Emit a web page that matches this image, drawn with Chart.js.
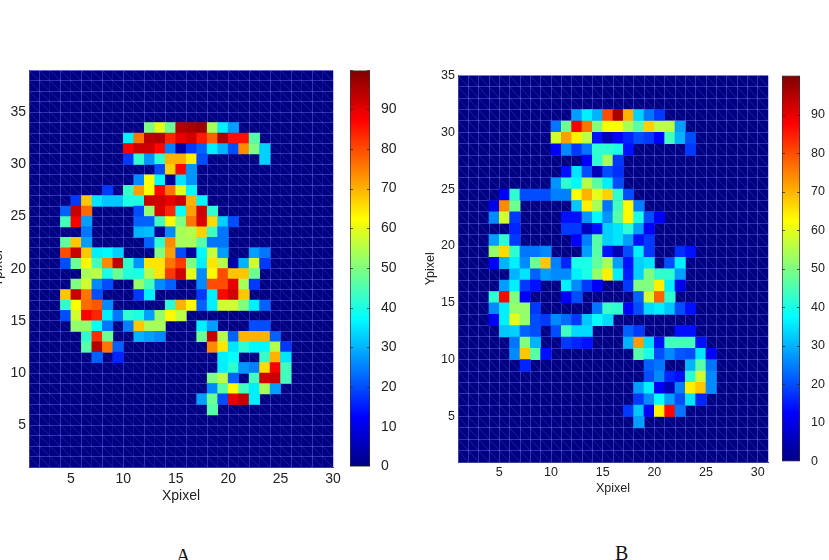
<!DOCTYPE html>
<html>
<head>
<meta charset="utf-8">
<title>Xpixel Ypixel maps</title>
<script src="https://cdn.jsdelivr.net/npm/chart.js@4"></script>
<style>
html, body { margin: 0; padding: 0; background: #fff; }
#page { position: relative; width: 829px; height: 560px; overflow: hidden; }
#page canvas { position: absolute; }
.tag { position: absolute; font-family: "Liberation Serif", serif; font-size: 20px; line-height: 22px; color: #111; }
</style>
</head>
<body>
<div id="page">
  <canvas id="mapA" width="360" height="448" style="left:-15px;top:59px"></canvas>
  <canvas id="barA" width="62" height="419" style="left:340px;top:59px"></canvas>
  <canvas id="mapB" width="362" height="433" style="left:418px;top:64.5px"></canvas>
  <canvas id="barB" width="60" height="407" style="left:772px;top:64.5px"></canvas>
  <div class="tag" style="left:176px;top:545px">A</div>
  <div class="tag" style="left:615px;top:542px">B</div>
</div>
<script>
// Map A: row number, first filled column, then the cell values from that column on
var rowsA = [33, 32, 31, 30, 29, 28, 27, 26, 25, 24, 23, 22, 21, 20, 19, 18, 17, 16, 15, 14, 13, 12, 11, 10, 9, 8, 7, 6];
var startA = [12, 10, 10, 10, 13, 11, 8, 5, 4, 4, 6, 4, 4, 4, 6, 5, 4, 4, 4, 5, 6, 6, 7, 19, 18, 18, 17, 18];
var valuesA = [
    [50, 60, 48, 95, 96, 97, 54, 36, 28],
    [36, 76, 94, 95, 84, 90, 92, 85, 78, 96, 86, 86, 46],
    [88, 93, 92, 87, 25, 3, 18, 22, 36, 30, 20, 74, 50, 33],
    [18, 42, 27, 42, 70, 70, 64, 20, 0, 0, 0, 0, 0, 33],
    [20, 67, 87, 27],
    [26, 62, 37, 2, 35, 27],
    [18, 0, 43, 72, 62, 87, 76, 60, 37],
    [18, 68, 35, 32, 32, 40, 40, 93, 92, 90, 93, 70, 37],
    [22, 93, 77, 0, 0, 0, 0, 20, 52, 91, 84, 38, 72, 92, 42],
    [44, 88, 28, 0, 0, 0, 0, 22, 22, 44, 63, 50, 76, 91, 66, 33, 20],
    [24, 0, 0, 0, 0, 30, 31, 2, 26, 54, 55, 67, 44, 24],
    [47, 68, 28, 0, 0, 0, 0, 0, 22, 42, 74, 54, 54, 46, 24, 24],
    [80, 93, 68, 36, 37, 33, 0, 0, 0, 50, 72, 20, 3, 37, 57, 28, 0, 0, 28, 24],
    [20, 48, 63, 44, 74, 94, 42, 27, 65, 65, 76, 82, 50, 36, 65, 55, 4, 30, 58, 18],
    [54, 56, 40, 48, 41, 40, 55, 65, 82, 92, 60, 26, 63, 80, 68, 68, 48],
    [50, 58, 26, 20, 0, 0, 52, 44, 26, 22, 0, 0, 26, 80, 80, 90, 54, 18],
    [68, 93, 76, 20, 0, 0, 0, 18, 36, 0, 0, 0, 0, 18, 36, 87, 92, 68],
    [42, 62, 77, 79, 26, 0, 0, 0, 0, 0, 42, 70, 63, 22, 36, 58, 58, 50, 36, 22],
    [20, 58, 88, 84, 36, 24, 42, 40, 28, 52, 63, 56],
    [52, 52, 38, 24, 0, 25, 68, 54, 54, 0, 0, 0, 36, 28, 0, 0, 0, 20, 20],
    [42, 83, 48, 0, 0, 30, 28, 26, 0, 0, 0, 48, 93, 55, 22, 70, 70, 70, 22],
    [46, 95, 76, 22, 0, 0, 0, 0, 0, 0, 0, 0, 74, 65, 35, 42, 37, 37, 55, 18],
    [22, 0, 16, 0, 0, 0, 0, 0, 0, 0, 0, 0, 36, 38, 0, 0, 43, 70, 35],
    [36, 42, 27, 25, 66, 88, 44],
    [50, 56, 22, 0, 44, 92, 93, 44],
    [26, 46, 63, 44, 36, 54, 28],
    [28, 48, 20, 90, 93, 36],
    [46]
];

// Map B, same layout
var rowsB = [31, 30, 29, 28, 27, 26, 25, 24, 23, 22, 21, 20, 19, 18, 17, 16, 15, 14, 13, 12, 11, 10, 9, 8, 7, 6, 5, 4];
var startB = [12, 10, 10, 10, 13, 11, 10, 5, 4, 4, 6, 4, 4, 4, 6, 5, 4, 4, 4, 5, 6, 6, 7, 19, 18, 18, 17, 18];
var valuesB = [
    [28, 36, 30, 80, 96, 70, 33, 24, 18],
    [24, 48, 88, 76, 50, 62, 62, 54, 46, 67, 56, 56, 28],
    [58, 72, 64, 56, 14, 5, 12, 16, 20, 18, 12, 44, 30, 20],
    [12, 26, 18, 24, 42, 42, 40, 14, 0, 0, 0, 0, 0, 18],
    [12, 42, 54, 18],
    [14, 35, 20, 5, 20, 17],
    [27, 42, 37, 55, 46, 36, 20],
    [12, 42, 20, 20, 20, 25, 25, 62, 70, 60, 67, 42, 20],
    [10, 74, 48, 0, 0, 0, 0, 0, 32, 64, 54, 24, 44, 63, 25],
    [26, 58, 18, 0, 0, 0, 0, 14, 14, 27, 37, 27, 46, 63, 40, 20, 12],
    [16, 0, 0, 0, 0, 18, 18, 6, 14, 33, 35, 42, 28, 12],
    [28, 42, 18, 0, 0, 0, 0, 0, 12, 25, 46, 33, 35, 28, 14, 18],
    [52, 66, 42, 24, 24, 26, 0, 0, 0, 28, 46, 14, 5, 20, 36, 18, 0, 0, 17, 14],
    [12, 30, 36, 26, 48, 68, 25, 16, 40, 40, 47, 54, 28, 14, 33, 35, 0, 20, 36],
    [30, 35, 22, 28, 26, 26, 36, 40, 52, 64, 36, 15, 33, 50, 42, 42, 28],
    [28, 36, 18, 14, 0, 0, 36, 26, 18, 12, 0, 0, 18, 50, 50, 64, 36, 10],
    [42, 87, 50, 12, 0, 0, 0, 12, 20, 0, 0, 0, 0, 0, 22, 58, 78, 42],
    [26, 36, 52, 52, 18, 0, 0, 0, 0, 0, 24, 43, 42, 12, 20, 34, 36, 32, 20, 14],
    [12, 36, 60, 52, 20, 18, 26, 23, 18, 32, 38, 34],
    [32, 33, 22, 20, 0, 20, 44, 34, 34, 0, 0, 0, 22, 18, 0, 0, 0, 14, 14],
    [24, 50, 30, 0, 0, 18, 16, 14, 0, 0, 0, 30, 72, 34, 14, 44, 44, 44, 14],
    [26, 68, 46, 14, 0, 0, 0, 0, 0, 0, 0, 0, 46, 40, 20, 26, 21, 20, 35, 12],
    [16, 0, 0, 0, 0, 0, 0, 0, 0, 0, 0, 0, 22, 24, 0, 0, 30, 46, 24],
    [20, 26, 16, 14, 42, 58, 26],
    [28, 36, 12, 5, 25, 64, 68, 26],
    [18, 26, 38, 28, 20, 35, 16],
    [18, 32, 12, 64, 87, 24],
    [28]
];

var xTicks = [5, 10, 15, 20, 25, 30];
var yTicks = [5, 10, 15, 20, 25, 30, 35];
var barTicks = [0, 10, 20, 30, 40, 50, 60, 70, 80, 90];
var barTopA = 99.75;
var barTopB = 100.2;

// jet colormap, position 0..1 -> rgb
var jetStops = [
    [0, [0, 0, 131]],
    [0.125, [0, 0, 255]],
    [0.375, [0, 255, 255]],
    [0.625, [255, 255, 0]],
    [0.875, [255, 0, 0]],
    [1, [128, 0, 0]]
];

function jet(v) {
    var t = Math.min(1, Math.max(0, v / 100));
    for (var i = 1; i < jetStops.length; i++) {
        if (t <= jetStops[i][0]) {
            var a = jetStops[i - 1], b = jetStops[i];
            var k = (t - a[0]) / (b[0] - a[0]);
            var c = [0, 1, 2].map(function (n) { return Math.round(a[1][n] + (b[1][n] - a[1][n]) * k); });
            return 'rgb(' + c.join(',') + ')';
        }
    }
    return 'rgb(128,0,0)';
}

// one floating bar per filled cell, the navy floor shows through everywhere else
function buildCells(rows, starts, values) {
    var cells = [];
    rows.forEach(function (r, idx) {
        values[idx].forEach(function (v, n) {
            if (v > 0) cells.push({ x: starts[idx] + n + 0.5, y: [r, r + 1], v: v });
        });
    });
    return cells;
}

// navy floor and the faint diagonals of the triangulated surface, under the cells
var floor = {
    id: 'floor',
    beforeDraw: function (chart) {
        var a = chart.chartArea, ctx = chart.ctx;
        ctx.save();
        ctx.fillStyle = '#000083';
        ctx.fillRect(a.left, a.top, a.width, a.height);
        ctx.restore();
    },
    beforeDatasetsDraw: function (chart) {
        var x = chart.scales.x, y = chart.scales.y, a = chart.chartArea, ctx = chart.ctx;
        ctx.save();
        ctx.beginPath();
        ctx.rect(a.left, a.top, a.width, a.height);
        ctx.clip();
        ctx.strokeStyle = 'rgba(150,150,255,0.2)';
        ctx.lineWidth = 1;
        for (var c = x.min; c < x.max; c++) {
            for (var r = y.min; r < y.max; r++) {
                ctx.beginPath();
                ctx.moveTo(x.getPixelForValue(c), y.getPixelForValue(r + 1));
                ctx.lineTo(x.getPixelForValue(c + 1), y.getPixelForValue(r));
                ctx.stroke();
            }
        }
        ctx.restore();
    }
};

function drawMap(id, rows, starts, values, opts) {
    var cells = buildCells(rows, starts, values);
    var labelFont = { family: '"Liberation Sans", Arial, sans-serif', size: opts.font };
    var gridColor = 'rgba(110,110,240,0.45)';
    new Chart(document.getElementById(id), {
        type: 'bar',
        data: {
            datasets: [{
                data: cells,
                backgroundColor: cells.map(function (p) { return jet(p.v); }),
                borderWidth: 0,
                barPercentage: 1,
                categoryPercentage: 1
            }]
        },
        options: {
            responsive: false,
            animation: false,
            events: [],
            layout: { padding: { top: 10, right: opts.right } },
            plugins: { legend: { display: false }, tooltip: { enabled: false } },
            scales: {
                x: {
                    type: 'linear', offset: false, min: 1, max: opts.xMax,
                    grid: {
                        offset: false, z: -1, drawTicks: false,
                        color: function (c) {
                            return opts.everyOtherX && c.tick && c.tick.value % 2 ? 'rgba(110,110,240,0.14)' : gridColor;
                        }
                    },
                    border: { color: '#3c3c9c', z: 1 },
                    ticks: {
                        stepSize: 1, autoSkip: false, maxRotation: 0, color: '#222', font: labelFont, padding: opts.tickPad,
                        callback: function (v) { return xTicks.indexOf(v) >= 0 ? String(v) : ''; }
                    },
                    title: { display: true, text: 'Xpixel', color: '#222', font: labelFont, padding: { top: 0, bottom: 2 } },
                    afterFit: function (s) { s.height = opts.xHeight; }
                },
                y: {
                    type: 'linear', min: 1, max: opts.yMax,
                    grid: { color: gridColor, z: -1, drawTicks: false },
                    border: { color: '#3c3c9c', z: 1 },
                    ticks: {
                        stepSize: 1, autoSkip: false, color: '#222', font: labelFont, padding: 3,
                        callback: function (v) { return yTicks.indexOf(v) >= 0 ? String(v) : ''; }
                    },
                    title: { display: true, text: 'Ypixel', color: '#222', font: labelFont, padding: { top: 5, bottom: 0 } },
                    afterFit: function (s) { s.width = opts.yWidth; }
                }
            }
        },
        plugins: [floor]
    });
}

// short marks on both sides of the colour bar
var barMarks = {
    id: 'barMarks',
    afterDatasetsDraw: function (chart) {
        var y = chart.scales.y, a = chart.chartArea, ctx = chart.ctx;
        ctx.save();
        ctx.strokeStyle = 'rgba(40,40,40,0.75)';
        ctx.lineWidth = 1;
        y.ticks.forEach(function (t) {
            if (t.value === 0) return;
            var p = Math.round(y.getPixelForValue(t.value)) + 0.5;
            ctx.beginPath();
            ctx.moveTo(a.left, p); ctx.lineTo(a.left + 3, p);
            ctx.moveTo(a.right - 3, p); ctx.lineTo(a.right, p);
            ctx.stroke();
        });
        ctx.restore();
    }
};

function drawBar(id, top, opts) {
    new Chart(document.getElementById(id), {
        type: 'bar',
        data: {
            labels: [''],
            datasets: [{
                data: [[0, top]],
                barPercentage: 1,
                categoryPercentage: 1,
                borderSkipped: false,
                borderWidth: 1,
                borderColor: '#3a2a3a',
                backgroundColor: function (c) {
                    var area = c.chart.chartArea;
                    if (!area) return '#000083';
                    var g = c.chart.ctx.createLinearGradient(0, area.bottom, 0, area.top);
                    jetStops.forEach(function (s) {
                        g.addColorStop(s[0], 'rgb(' + s[1].join(',') + ')');
                    });
                    return g;
                }
            }]
        },
        options: {
            responsive: false,
            animation: false,
            events: [],
            layout: { padding: { top: 10, bottom: 10, left: opts.left } },
            plugins: { legend: { display: false }, tooltip: { enabled: false } },
            scales: {
                x: { display: false },
                y: {
                    position: 'right', min: 0, max: top,
                    grid: { display: false },
                    border: { display: false },
                    ticks: {
                        color: '#222', padding: 3, autoSkip: false,
                        font: { family: '"Liberation Sans", Arial, sans-serif', size: opts.font },
                        stepSize: 10,
                        callback: function (v) { return barTicks.indexOf(v) >= 0 ? String(v) : ''; }
                    },
                    afterFit: function (s) { s.width = opts.axisWidth; }
                }
            }
        },
        plugins: [barMarks]
    });
}

drawMap('mapA', rowsA, startA, valuesA, { xMax: 30, yMax: 39, font: 14, right: 12, xHeight: 40, yWidth: 44, tickPad: 4, everyOtherX: true });
drawMap('mapB', rowsB, startB, valuesB, { xMax: 31, yMax: 35, font: 12.5, right: 12, xHeight: 36, yWidth: 40, tickPad: 3, everyOtherX: false });
drawBar('barA', barTopA, { left: 10, font: 14, axisWidth: 32 });
drawBar('barB', barTopB, { left: 10, font: 12.5, axisWidth: 32 });
</script>
</body>
</html>
